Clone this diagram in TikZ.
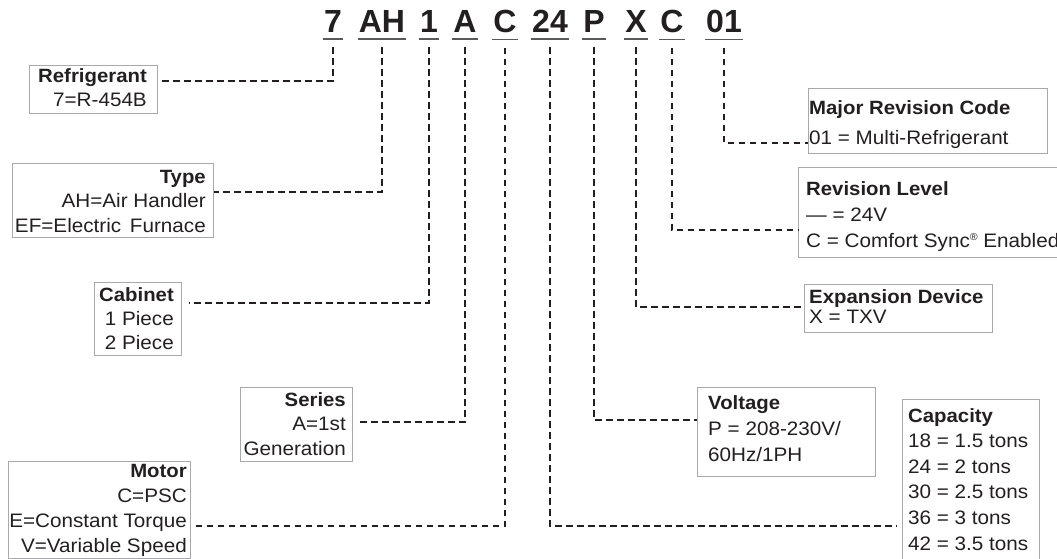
\documentclass[tikz,border=0pt]{standalone}
\usepackage{fontspec}
\setmainfont{Liberation Sans}[FakeStretch=1.06]
\newfontfamily\codefont{Liberation Sans}
\definecolor{ink}{HTML}{231F20}
\definecolor{boxgray}{HTML}{A7A9AC}
\definecolor{ulgray}{HTML}{58595B}
\newcommand{\boxlines}[3]{\fontsize{19.5}{#2}\selectfont\begin{tabular}[t]{@{}#1@{}}#3\end{tabular}}
\newcommand{\hdr}[1]{{\fontsize{19.2}{20}\selectfont\bfseries #1}}
\newcommand{\regmark}{\raisebox{6.5pt}{\fontsize{10}{10}\selectfont ®}}
\begin{document}
\begin{tikzpicture}[x=1pt,y=-1pt,
  code/.style={font=\codefont\fontsize{32}{32}\selectfont\bfseries, anchor=base, inner xsep=0.8pt, inner ysep=6pt, text=ink},
  uline/.style={draw=ulgray, line width=1.5pt},
  infobox/.style={draw=boxgray, line width=1.3pt, anchor=north west, inner sep=0pt},
  txt/.style={inner sep=0pt, text=ink},
  conn/.style={draw=ink, line width=2pt, dash pattern=on 6.5pt off 4.5pt, shorten <=8pt}
]
\useasboundingbox (0,0) rectangle (1057,559);
\clip (0,0) rectangle (1057,559);

% code letters
\node[code] (c7)  at (333,33) {7};
\node[code] (cAH) at (382,33) {AH};
\node[code] (c1)  at (429,33) {1};
\node[code] (cA)  at (465,33) {A};
\node[code] (cC)  at (505,33) {C};
\node[code] (c24) at (550,33) {24};
\node[code] (cP)  at (594,33) {P};
\node[code] (cX)  at (636,33) {X};
\node[code] (cC2) at (672,33) {C};
\node[code] (c01) at (724,33) {01};
\foreach \n in {c7,cAH,c1,cA,cC,c24,cP,cX,cC2,c01}
  \draw[uline] (\n.south west) -- (\n.south east);

% boxes
\node[infobox, minimum width=128pt, minimum height=48pt] (ref) at (29,65) {};
\node[infobox, minimum width=201pt, minimum height=74pt] (type) at (12,163) {};
\node[infobox, minimum width=87pt, minimum height=73pt] (cab) at (94,282) {};
\node[infobox, minimum width=112pt, minimum height=74pt] (ser) at (240,387) {};
\node[infobox, minimum width=182pt, minimum height=97pt] (mot) at (8,461) {};
\node[infobox, minimum width=239pt, minimum height=65pt] (maj) at (808,88) {};
\node[infobox, minimum width=267pt, minimum height=90pt] (rev) at (798,167) {};
\node[infobox, minimum width=188pt, minimum height=48pt] (exp) at (804,284) {};
\node[infobox, minimum width=178pt, minimum height=89pt] (vol) at (697,387) {};
\node[infobox, minimum width=137pt, minimum height=175pt] (cap) at (902,399) {};

% texts
\node[txt, anchor=base east] (ref-t) at (147,83) {\boxlines{r}{24pt}{\hdr{Refrigerant}\\7=R-454B}};
\node[txt, anchor=base east] (type-t) at (206,183) {\boxlines{r}{24.5pt}{\hdr{Type}\\AH=Air Handler\\EF=Electric\hspace{3pt} Furnace}};
\node[txt, anchor=base east] (cab-t) at (174,301) {\boxlines{r}{24pt}{\hdr{Cabinet}\\1 Piece\\2 Piece}};
\node[txt, anchor=base east] (ser-t) at (346,406) {\boxlines{r}{24.5pt}{\hdr{Series}\\A=1st\\Generation}};
\node[txt, anchor=base east] (mot-t) at (187,477) {\boxlines{r}{25pt}{\hdr{Motor}\\C=PSC\\E=Constant Torque\\V=Variable Speed}};
\node[txt, anchor=base west] (maj-t) at (809,115) {\boxlines{l}{25pt}{\hdr{Major Revision Code}\\[4pt]01 = Multi-Refrigerant}};
\node[txt, anchor=base west] (rev-t) at (806,195) {\boxlines{l}{26pt}{\hdr{Revision Level}\\— = 24V\\C = Comfort Sync\regmark\ Enabled}};
\node[txt, anchor=base west] (exp-t) at (809,303) {\boxlines{l}{20pt}{\hdr{Expansion Device}\\X = TXV}};
\node[txt, anchor=base west] (vol-t) at (708,409) {\boxlines{l}{26pt}{\hdr{Voltage}\\P = 208-230V/\\60Hz/1PH}};
\node[txt, anchor=base west] (cap-t) at (908,422) {\boxlines{l}{25.6pt}{\hdr{Capacity}\\18 = 1.5 tons\\24 = 2 tons\\30 = 2.5 tons\\36 = 3 tons\\42 = 3.5 tons}};

% connectors
\draw[conn, shorten >=1pt] (c7.south) |- (ref.east |- 0,81);
\draw[conn] (cAH.south) |- (type.east |- 0,192);
\draw[conn, shorten >=7pt] (c1.south) |- (cab.east |- 0,303);
\draw[conn, shorten >=6pt] (cA.south) |- (ser.east |- 0,422);
\draw[conn, shorten >=5pt] (cC.south) |- (mot.east |- 0,526);
\draw[conn, shorten >=5pt] (c24.south) |- (cap.west |- 0,526);
\draw[conn] (cP.south) |- (vol.west |- 0,420);
\draw[conn] (cX.south) |- (exp.west |- 0,307);
\draw[conn] (cC2.south) |- (rev.west |- 0,230);
\draw[conn] (c01.south) |- (maj.west |- 0,143);
\end{tikzpicture}
\end{document}
